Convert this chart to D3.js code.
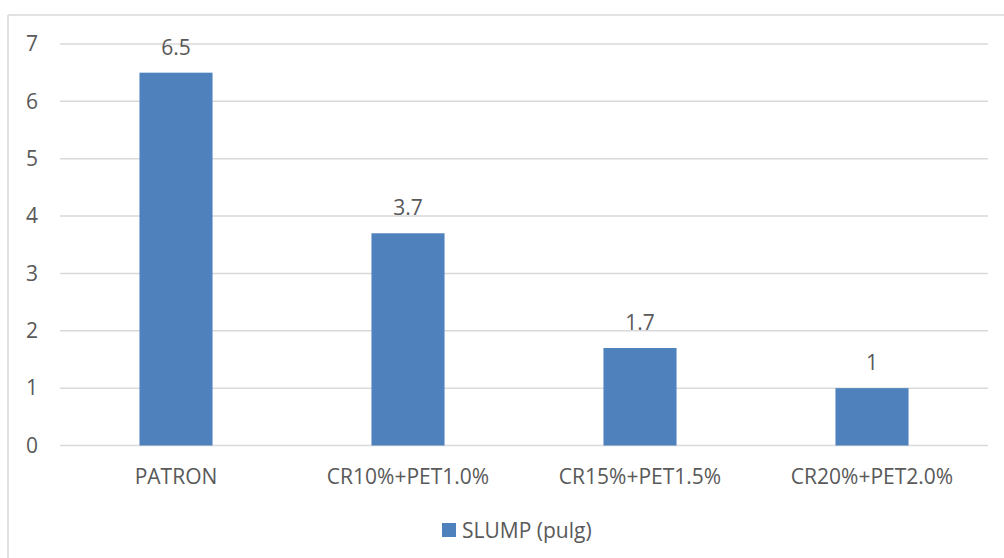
<!DOCTYPE html>
<html>
<head>
<meta charset="utf-8">
<script src="https://cdn.jsdelivr.net/npm/d3@7"></script>
<style>
  html, body { margin: 0; padding: 0; background: #fff; }
  svg { display: block; font-family: "Open Sans", "Liberation Sans", sans-serif; }
</style>
</head>
<body>
<svg id="chart" width="1004" height="558"></svg>
<script>
// Slump test results per mix
const categories = ["PATRON", "CR10%+PET1.0%", "CR15%+PET1.5%", "CR20%+PET2.0%"];
const slumpValues = [6.5, 3.7, 1.7, 1];
const yTicks = [0, 1, 2, 3, 4, 5, 6, 7];
const seriesName = "SLUMP (pulg)";

const svg = d3.select("#chart");
const W = 1004, H = 558;
const plot = { left: 60, right: 988, top: 44, bottom: 445.5 };
const textColor = "#595959";
const gridColor = "#d9d9d9";
const barColor = "#4f81bd";
const fontSize = 21;

// Chart frame (top and left edges visible)
svg.append("line").attr("x1", 8).attr("y1", 15).attr("x2", W).attr("y2", 15)
  .attr("stroke", gridColor).attr("stroke-width", 1.5);
svg.append("line").attr("x1", 8).attr("y1", 15).attr("x2", 8).attr("y2", H)
  .attr("stroke", gridColor).attr("stroke-width", 1.5);

const x = d3.scaleBand().domain(categories).range([plot.left, plot.right]).padding(0);
const y = d3.scaleLinear().domain([0, 7]).range([plot.bottom, plot.top]);
const barW = x.bandwidth() * 0.315;

// Horizontal gridlines
svg.append("g").selectAll("line").data(yTicks).join("line")
  .attr("x1", plot.left).attr("x2", plot.right)
  .attr("y1", d => y(d)).attr("y2", d => y(d))
  .attr("stroke", gridColor).attr("stroke-width", 1.5);

// Y axis labels
const yAxis = d3.axisLeft(y).tickValues(yTicks).tickSize(0).tickPadding(0).tickFormat(d3.format("d"));
const gy = svg.append("g").attr("transform", `translate(38,0)`).call(yAxis);
gy.select(".domain").remove();
gy.selectAll("text").attr("fill", textColor).attr("font-size", fontSize).attr("font-family", "Open Sans, Liberation Sans, sans-serif");

// Bars
svg.append("g").selectAll("rect").data(categories).join("rect")
  .attr("x", (d) => x(d) + x.bandwidth() / 2 - barW / 2)
  .attr("y", (d, i) => y(slumpValues[i]))
  .attr("width", barW)
  .attr("height", (d, i) => y(0) - y(slumpValues[i]))
  .attr("fill", barColor);

// Value labels
svg.append("g").selectAll("text").data(categories).join("text")
  .attr("x", d => x(d) + x.bandwidth() / 2)
  .attr("y", (d, i) => y(slumpValues[i]) - 18)
  .attr("text-anchor", "middle")
  .attr("fill", textColor).attr("font-size", fontSize)
  .text((d, i) => String(slumpValues[i]));

// X axis category labels
const xAxis = d3.axisBottom(x).tickSize(0).tickPadding(0);
const gx = svg.append("g").attr("transform", `translate(0,${plot.bottom + 24})`).call(xAxis);
gx.select(".domain").remove();
gx.selectAll("text").attr("fill", textColor).attr("font-size", fontSize)
  .attr("font-family", "Open Sans, Liberation Sans, sans-serif");

// Legend
const legend = svg.append("g").attr("transform", "translate(442,523)");
legend.append("rect").attr("width", 14).attr("height", 14).attr("fill", barColor);
legend.append("text").attr("x", 20).attr("y", 15)
  .attr("fill", textColor).attr("font-size", fontSize).text(seriesName);
</script>
</body>
</html>
